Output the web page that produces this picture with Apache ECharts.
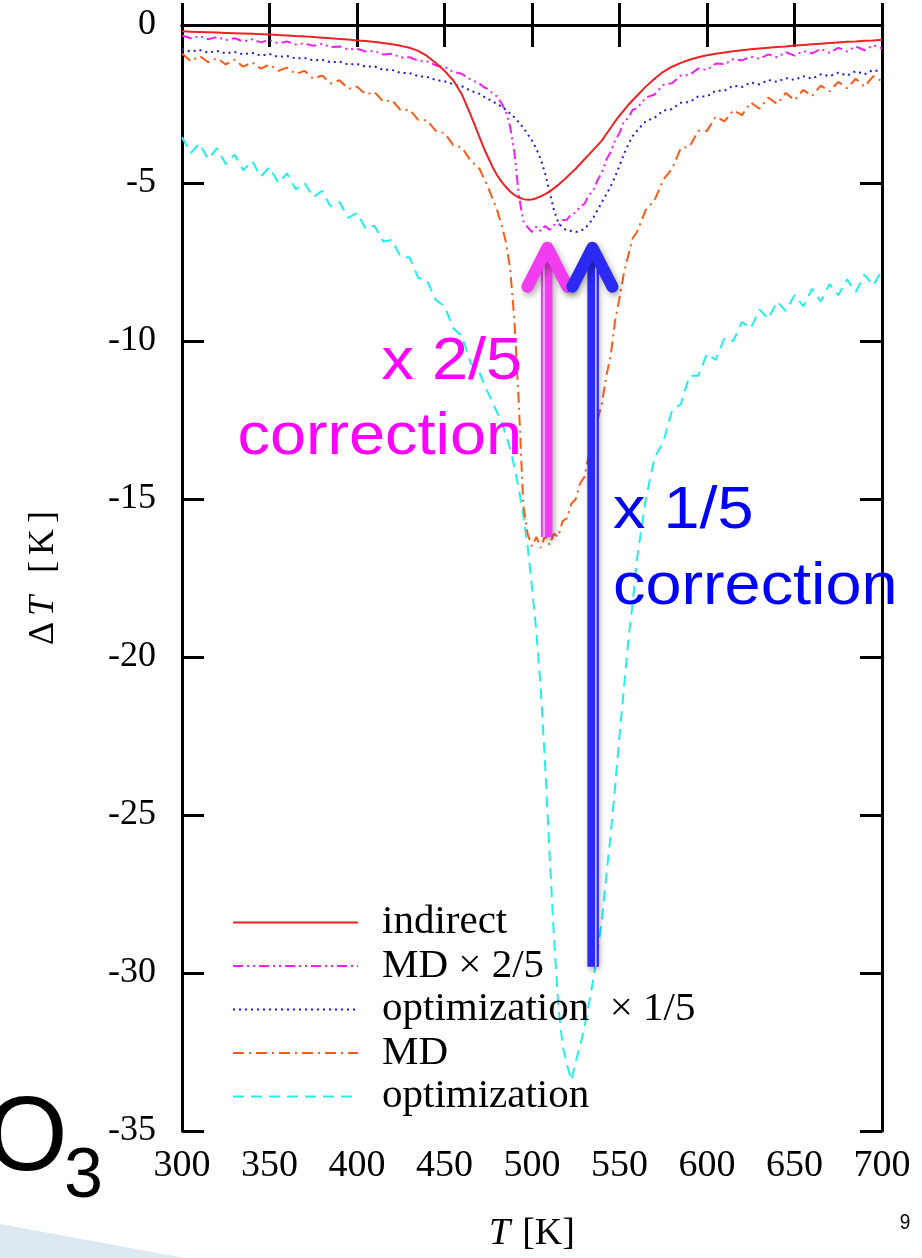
<!DOCTYPE html>
<html>
<head>
<meta charset="utf-8">
<script src="https://cdn.jsdelivr.net/npm/echarts@6/dist/echarts.min.js"></script>
<style>
  html, body { margin: 0; padding: 0; background: #fff; }
  #chart { width: 922px; height: 1258px; }
</style>
</head>
<body>
<div id="chart"></div>
<script>
// Temperature grid (K); finer steps across the dip
const tempK = [
  300, 305, 310, 315, 320, 325, 330, 335, 340, 345, 350, 355, 360, 365, 370, 375, 380, 385,
  390, 395, 400, 405, 410, 415, 420, 425, 430, 435, 440, 445, 450, 455, 460, 465, 470,
  472.5, 475, 477.5, 480, 482.5, 485, 487.5, 490, 492.5, 495, 497.5, 500, 502.5, 505, 507.5,
  510, 512.5, 515, 517.5, 520, 522.5, 525, 527.5, 530, 532.5, 535, 537.5, 540, 542.5, 545,
  547.5, 550, 552.5, 555, 557.5, 560,
  565, 570, 575, 580, 585, 590, 595, 600, 605, 610, 615, 620, 625, 630, 635, 640, 645, 650,
  655, 660, 665, 670, 675, 680, 685, 690, 695, 700
];

// ΔT (K) for each curve, one value per entry of tempK
const indirect = [
  -0.20, -0.21, -0.22, -0.23, -0.24, -0.25, -0.26, -0.27, -0.28, -0.29, -0.30, -0.32, -0.33, -0.35, -0.36, -0.38, -0.40, -0.42,
  -0.44, -0.46, -0.49, -0.51, -0.54, -0.57, -0.61, -0.66, -0.72, -0.82, -0.98, -1.20, -1.45, -1.75, -2.20, -2.85, -3.55,
  -3.90, -4.20, -4.50, -4.75, -4.95, -5.12, -5.27, -5.38, -5.46, -5.51, -5.53, -5.52, -5.48, -5.42, -5.35,
  -5.27, -5.17, -5.06, -4.94, -4.81, -4.68, -4.55, -4.40, -4.25, -4.10, -3.95, -3.80, -3.65, -3.45, -3.25,
  -3.05, -2.87, -2.70, -2.53, -2.38, -2.24,
  -1.95, -1.70, -1.48, -1.32, -1.20, -1.10, -1.02, -0.96, -0.91, -0.87, -0.83, -0.80, -0.77, -0.74, -0.72, -0.70, -0.68, -0.65,
  -0.63, -0.61, -0.59, -0.57, -0.55, -0.53, -0.52, -0.50, -0.49, -0.47
];

const mdScaled = [
  -0.33, -0.42, -0.35, -0.45, -0.38, -0.48, -0.42, -0.52, -0.45, -0.55, -0.48, -0.58, -0.52, -0.62, -0.58, -0.66, -0.60, -0.70,
  -0.68, -0.77, -0.75, -0.84, -0.83, -0.93, -0.91, -1.03, -1.02, -1.13, -1.15, -1.28, -1.33, -1.48, -1.55, -1.73, -1.85,
  -1.97, -2.03, -2.17, -2.26, -2.47, -2.73, -3.22, -4.05, -5.40, -6.20, -6.40, -6.55, -6.38, -6.52, -6.36,
  -6.48, -6.33, -6.36, -6.18, -6.16, -5.98, -5.94, -5.74, -5.66, -5.38, -5.24, -4.91, -4.66, -4.26, -4.02,
  -3.64, -3.42, -3.06, -2.94, -2.68, -2.64,
  -2.30, -2.20, -1.90, -1.84, -1.60, -1.58, -1.38, -1.42, -1.22, -1.24, -1.08, -1.12, -1.00, -1.07, -0.93, -1.02, -0.86, -0.97,
  -0.82, -0.90, -0.76, -0.88, -0.72, -0.84, -0.68, -0.80, -0.64, -0.74
];

const optScaled = [
  -0.76, -0.84, -0.79, -0.87, -0.82, -0.90, -0.85, -0.93, -0.88, -0.97, -0.92, -1.01, -0.98, -1.06, -1.04, -1.12, -1.10, -1.18,
  -1.16, -1.25, -1.23, -1.32, -1.31, -1.42, -1.42, -1.52, -1.52, -1.62, -1.64, -1.74, -1.78, -1.88, -1.94, -2.08, -2.18,
  -2.27, -2.34, -2.42, -2.50, -2.58, -2.68, -2.80, -2.93, -3.08, -3.25, -3.45, -3.66, -3.92, -4.25, -4.70,
  -5.25, -5.85, -6.25, -6.42, -6.50, -6.52, -6.55, -6.52, -6.45, -6.30, -6.10, -5.85, -5.60, -5.35, -5.10,
  -4.80, -4.45, -4.10, -3.78, -3.52, -3.35,
  -3.04, -2.94, -2.71, -2.66, -2.46, -2.44, -2.26, -2.26, -2.08, -2.08, -1.92, -1.96, -1.82, -1.88, -1.74, -1.80, -1.68, -1.74,
  -1.62, -1.70, -1.56, -1.62, -1.51, -1.60, -1.46, -1.56, -1.42, -1.49
];

const md = [
  -0.90, -1.15, -0.98, -1.18, -1.05, -1.25, -1.10, -1.32, -1.18, -1.38, -1.25, -1.45, -1.35, -1.55, -1.45, -1.70, -1.60, -1.85,
  -1.75, -2.02, -1.95, -2.20, -2.12, -2.42, -2.38, -2.70, -2.68, -3.00, -3.02, -3.35, -3.42, -3.80, -3.88, -4.30, -4.55,
  -4.85, -5.15, -5.50, -5.85, -6.30, -6.85, -7.70, -9.40, -12.00, -15.20, -16.10, -16.50, -16.20, -16.55, -16.15,
  -16.45, -16.10, -16.20, -15.70, -15.60, -15.15, -15.00, -14.50, -14.30, -13.60, -13.25, -12.50, -11.95, -11.10, -10.45,
  -9.35, -8.65, -7.85, -7.30, -6.75, -6.55,
  -5.85, -5.55, -4.90, -4.55, -3.90, -3.85, -3.35, -3.35, -2.90, -3.05, -2.70, -2.85, -2.45, -2.65, -2.30, -2.50, -2.15, -2.38,
  -2.05, -2.25, -1.92, -2.10, -1.80, -2.00, -1.70, -1.95, -1.62, -1.78
];

const optimization = [
  -3.55, -4.05, -3.75, -4.25, -3.90, -4.40, -4.10, -4.60, -4.30, -4.80, -4.50, -5.00, -4.70, -5.20, -5.00, -5.45, -5.25, -5.75,
  -5.60, -6.10, -5.95, -6.45, -6.35, -6.85, -6.80, -7.35, -7.35, -8.00, -8.10, -8.70, -8.90, -9.60, -9.85, -10.70, -11.00,
  -11.35, -11.65, -11.95, -12.25, -12.55, -12.95, -13.40, -14.00, -14.70, -15.50, -16.50, -17.80, -19.20, -21.00, -23.40,
  -26.20, -28.80, -31.00, -32.30, -32.90, -33.40, -32.80, -32.30, -31.70, -31.00, -30.20, -29.30, -28.30, -26.90, -25.60,
  -24.10, -22.50, -21.00, -19.50, -18.30, -16.90,
  -15.00, -13.70, -13.20, -12.20, -12.00, -11.10, -11.10, -10.40, -10.60, -9.90, -10.00, -9.40, -9.60, -9.00, -9.30, -8.75, -9.05, -8.55,
  -8.90, -8.35, -8.75, -8.20, -8.55, -8.05, -8.45, -7.90, -8.25, -7.75
];

// Axis ticks
const xTicks = { min: 300, max: 700, step: 50 };
const yTicks = { min: -35, max: 0, step: 5 };

// Legend labels
const seriesNames = ['indirect', 'MD × 2/5', 'optimization  × 1/5', 'MD', 'optimization'];

// Correction arrows: temperature position and ΔT span (tail, head)
const arrowMd = { T: 508.8, from: -16.2, to: -7.05 };
const arrowOpt = { T: 534.5, from: -29.8, to: -7.05 };

const serif = "'Liberation Serif', 'Times New Roman', serif";
const sans = "'Liberation Sans', Arial, sans-serif";

function pairs(values) {
  return tempK.map((t, i) => [t, values[i]]);
}

const chart = echarts.init(document.getElementById('chart'), null, { renderer: 'canvas' });

const frameAxisLine = { show: true, lineStyle: { color: '#000', width: 3 } };
const frameTick = { show: true, inside: true, length: 22, lineStyle: { color: '#000', width: 3 } };

function lineSeries(name, values, color, dash, z) {
  return {
    name: name,
    type: 'line',
    data: pairs(values),
    showSymbol: false,
    symbol: 'none',
    symbolSize: 0,
    z: z,
    lineStyle: { color: color, width: 2, type: dash },
    itemStyle: { color: color },
    animation: false
  };
}

const labelRich = {
  n: { fontFamily: serif, fontSize: 36, color: '#000', padding: [0, 3, 0, 3] },
  i: { fontFamily: serif, fontSize: 36, fontStyle: 'italic', color: '#000', padding: [0, 3, 0, 3] },
  s: { fontFamily: serif, fontSize: 36, color: '#000', padding: [0, 4, 0, 4] }
};

chart.setOption({
  backgroundColor: '#fff',
  animation: false,
  grid: { left: 182, right: 40, top: 25, bottom: 125 },
  xAxis: [
    {
      type: 'value', min: xTicks.min, max: xTicks.max, interval: xTicks.step,
      axisLine: frameAxisLine, axisTick: frameTick, splitLine: { show: false },
      axisLabel: { fontFamily: serif, fontSize: 38, color: '#000', margin: 16 },
      name: '{i|T}{n|[K]}', nameLocation: 'middle', nameGap: 84,
      nameTextStyle: {
        rich: {
          i: { fontFamily: serif, fontSize: 38, fontStyle: 'italic', color: '#000', padding: [0, 12, 0, 0] },
          n: { fontFamily: serif, fontSize: 38, color: '#000' }
        }
      }
    },
    {
      type: 'value', position: 'top', min: xTicks.min, max: xTicks.max, interval: xTicks.step,
      axisLine: frameAxisLine, axisTick: frameTick, axisLabel: { show: false }, splitLine: { show: false }
    }
  ],
  yAxis: [
    {
      type: 'value', min: yTicks.min, max: yTicks.max, interval: yTicks.step,
      axisLine: frameAxisLine, axisTick: frameTick, splitLine: { show: false },
      axisLabel: { fontFamily: serif, fontSize: 36, color: '#000', margin: 26 },
      name: '{n|Δ}{i|T}{s| }{n|[}{n|K}{n|]}', nameLocation: 'middle', nameGap: 120, nameRotate: 90,
      nameTextStyle: { rich: labelRich }
    },
    {
      type: 'value', position: 'right', min: yTicks.min, max: yTicks.max, interval: yTicks.step,
      axisLine: frameAxisLine, axisTick: frameTick, axisLabel: { show: false }, splitLine: { show: false }
    }
  ],
  legend: {
    orient: 'vertical',
    left: 232,
    top: 902,
    padding: 0,
    itemWidth: 125,
    itemHeight: 16,
    itemGap: 2.5,
    selectedMode: false,
    data: seriesNames,
    itemStyle: { opacity: 0 },
    textStyle: { fontFamily: serif, fontSize: 41, lineHeight: 40, color: '#000', padding: [0, 0, 0, 19] }
  },
  series: [
    lineSeries(seriesNames[4], optimization, '#22eeee', [11, 7], 2),
    lineSeries(seriesNames[3], md, '#ff5a14', [11, 5, 2, 5], 3),
    lineSeries(seriesNames[2], optScaled, '#1c1ce8', [2, 4], 4),
    lineSeries(seriesNames[1], mdScaled, '#f020f0', [10, 4, 2, 4, 2, 4], 5),
    lineSeries(seriesNames[0], indirect, '#ee2222', 'solid', 6)
  ]
});

function arrowGraphics(spec, color, thinSide) {
  const tail = chart.convertToPixel({ xAxisIndex: 0, yAxisIndex: 0 }, [spec.T, spec.from]);
  const head = chart.convertToPixel({ xAxisIndex: 0, yAxisIndex: 0 }, [spec.T, spec.to]);
  const shadow = { shadowColor: 'rgba(0,0,0,0.35)', shadowBlur: 6, shadowOffsetX: 2, shadowOffsetY: 3 };
  const x = tail[0];
  return [
    {
      type: 'line', z: 50,
      shape: { x1: x, y1: tail[1], x2: x, y2: head[1] + 4 },
      style: Object.assign({ stroke: color, lineWidth: 10 }, shadow)
    },
    {
      type: 'line', z: 51,
      shape: { x1: x + thinSide * 3.5, y1: tail[1], x2: x + thinSide * 3.5, y2: head[1] + 10 },
      style: { stroke: 'rgba(255,255,255,0.85)', lineWidth: 1.5 }
    },
    {
      type: 'line', z: 51,
      shape: { x1: x + thinSide * 5.5, y1: tail[1], x2: x + thinSide * 5.5, y2: head[1] + 10 },
      style: { stroke: color, lineWidth: 2 }
    },
    {
      type: 'polyline', z: 52,
      shape: { points: [[x - 20, head[1] + 39], [x, head[1]], [x + 20, head[1] + 39]] },
      style: Object.assign({ stroke: color, lineWidth: 12, lineCap: 'round', lineJoin: 'round', fill: null }, shadow)
    }
  ];
}

const overlay = [].concat(
  arrowGraphics(arrowMd, '#f23cf0', -1),
  arrowGraphics(arrowOpt, '#2a2af2', 1),
  [
    {
      type: 'text', z: 60, x: 522, y: 362, scaleX: 1.08,
      style: { text: 'x 2/5', x: 0, y: 0, align: 'right', verticalAlign: 'middle', font: '60px ' + sans, fill: '#ff00ff' }
    },
    {
      type: 'text', z: 60, x: 522, y: 437, scaleX: 1.08,
      style: { text: 'correction', x: 0, y: 0, align: 'right', verticalAlign: 'middle', font: '60px ' + sans, fill: '#ff00ff' }
    },
    {
      type: 'text', z: 60, x: 613, y: 511, scaleX: 1.08,
      style: { text: 'x 1/5', x: 0, y: 0, align: 'left', verticalAlign: 'middle', font: '60px ' + sans, fill: '#0000ff' }
    },
    {
      type: 'text', z: 60, x: 613, y: 587, scaleX: 1.08,
      style: { text: 'correction', x: 0, y: 0, align: 'left', verticalAlign: 'middle', font: '60px ' + sans, fill: '#0000ff' }
    },
    {
      type: 'polygon', z: 1,
      shape: { points: [[0, 1224], [185, 1258], [0, 1258]] },
      style: { fill: '#dde9f2' }
    },
    {
      type: 'text', z: 60, x: -14, y: 1141,
      style: { text: 'O', x: 0, y: 0, align: 'left', verticalAlign: 'middle', font: '105px ' + sans, fill: '#000' }
    },
    {
      type: 'text', z: 60, x: 64, y: 1178,
      style: { text: '3', x: 0, y: 0, align: 'left', verticalAlign: 'middle', font: '70px ' + sans, fill: '#000' }
    },
    {
      type: 'text', z: 60, x: 905, y: 1223, scaleY: 1.2,
      style: { text: '9', x: 0, y: 0, align: 'center', verticalAlign: 'middle', font: '19px ' + sans, fill: '#000' }
    }
  ]
);

chart.setOption({ graphic: overlay });
</script>
</body>
</html>
